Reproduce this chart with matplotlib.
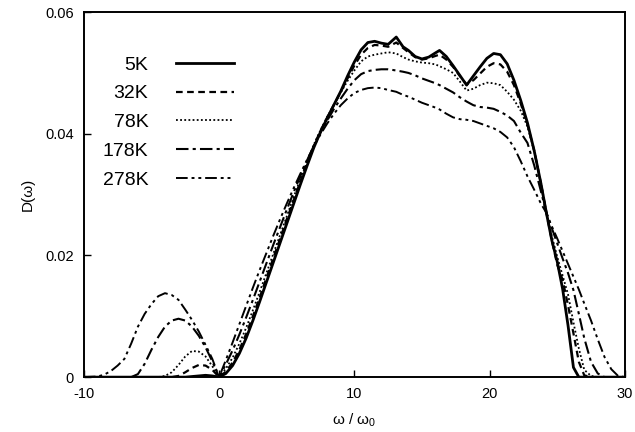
import matplotlib
matplotlib.use('Agg')
import matplotlib.pyplot as plt

plt.rcParams['font.family'] = ['Liberation Sans', 'DejaVu Sans']
plt.rcParams['mathtext.fontset'] = 'custom'
plt.rcParams['mathtext.rm'] = 'Liberation Sans'
plt.rcParams['mathtext.it'] = 'Liberation Sans'
plt.rcParams['axes.unicode_minus'] = False

# frequency grid (omega / omega_0)
omega = [-10, -9, -8.5, -8, -7.5, -7, -6.5, -6, -5.5, -5, -4.5, -4, -3.5, -3, -2.5, -2, -1.5, -1, -0.5, 0,
         0.5, 1, 1.5, 2, 2.5, 3, 3.5, 4, 4.5, 5, 5.5, 6, 6.5, 7, 7.5, 8, 8.5, 9, 9.5, 10, 10.5, 11, 11.5, 12, 12.5,
         13.1, 13.6, 14, 14.5, 15, 15.5, 16, 16.3, 16.8, 17.3,
         17.8, 18.3, 18.8, 19.3, 19.8, 20.3, 20.8, 21.3, 21.8, 22.3,
         22.8, 23.3, 23.8, 24.2, 24.6, 25, 25.4, 25.8, 26.2, 26.6,
         27, 27.5, 28, 28.5, 29, 29.5, 30]

d_5K = [0, 0, 0, 0, 0, 0, 0, 0, 0, 0, 0, 0, 0, 0, 0, 0.0001, 0.0002, 0.0003, 0.0002, 0,
        0.0006, 0.0019, 0.0039, 0.0064, 0.0093, 0.0124, 0.0156, 0.0188, 0.022, 0.0252, 0.0284, 0.0316, 0.0347,
        0.0377, 0.0403, 0.0426, 0.0448, 0.047, 0.0495, 0.0518, 0.0538, 0.055, 0.0552, 0.0549, 0.0547,
        0.0559, 0.0543, 0.0537, 0.0527, 0.0523, 0.0526, 0.0533, 0.0537, 0.0527, 0.0512,
        0.0496, 0.048, 0.0495, 0.051, 0.0524, 0.0532, 0.053, 0.0515, 0.0488, 0.0455,
        0.0418, 0.0372, 0.0318, 0.027, 0.0225, 0.019, 0.0145, 0.0085, 0.0016, 0,
        0, 0, 0, 0, 0, 0, 0]

d_32K = [0, 0, 0, 0, 0, 0, 0, 0, 0, 0, 0, 0, 0, 0.0002, 0.0008, 0.0015, 0.002, 0.0019, 0.0012, 0,
         0.0009, 0.0024, 0.0045, 0.0071, 0.01, 0.0131, 0.0163, 0.0195, 0.0227, 0.0259, 0.029, 0.0321, 0.0351,
         0.038, 0.0405, 0.0427, 0.0448, 0.0469, 0.0491, 0.0512, 0.053, 0.0541, 0.0546, 0.0545, 0.0543,
         0.055, 0.0541, 0.0534, 0.0526, 0.0522, 0.0524, 0.0528, 0.053, 0.0522, 0.051,
         0.0495, 0.0481, 0.0488, 0.0499, 0.051, 0.0516, 0.0514, 0.0502, 0.048, 0.045,
         0.0415, 0.0372, 0.0318, 0.027, 0.0225, 0.0185, 0.016, 0.0118, 0.0072, 0.0025,
         0.0003, 0, 0, 0, 0, 0, 0]

d_78K = [0, 0, 0, 0, 0, 0, 0, 0, 0, 0, 0, 0.0002, 0.0008, 0.002, 0.0034, 0.0043, 0.0042, 0.0034, 0.0018, 0,
         0.0014, 0.0032, 0.0055, 0.0081, 0.011, 0.014, 0.0171, 0.0202, 0.0233, 0.0264, 0.0295, 0.0325, 0.0354,
         0.0382, 0.0406, 0.0428, 0.0448, 0.0468, 0.0487, 0.0504, 0.0519, 0.0527, 0.053, 0.0532, 0.0534,
         0.0532, 0.0526, 0.0522, 0.0519, 0.0517, 0.0516, 0.0514, 0.0511, 0.0506, 0.05,
         0.0486, 0.0471, 0.0474, 0.048, 0.0484, 0.0483, 0.048, 0.0469, 0.0456, 0.0438,
         0.0412, 0.0372, 0.0318, 0.0272, 0.0232, 0.0198, 0.0167, 0.0136, 0.009, 0.0047,
         0.0012, 0.0002, 0, 0, 0, 0, 0]

d_178K = [0, 0, 0, 0, 0, 0, 0, 0.0005, 0.0022, 0.0045, 0.0066, 0.0083, 0.0093, 0.0096, 0.0093, 0.0083, 0.0068,
          0.0049, 0.0026, 0,
          0.0021, 0.0044, 0.007, 0.0098, 0.0127, 0.0157, 0.0187, 0.0217, 0.0246, 0.0275, 0.0303, 0.033, 0.0356,
          0.038, 0.0402, 0.0422, 0.0441, 0.0458, 0.0474, 0.0488, 0.0498, 0.0503, 0.0505, 0.0506, 0.0506,
          0.0504, 0.0502, 0.05, 0.0496, 0.0491, 0.0487, 0.0483, 0.048, 0.0474, 0.0468,
          0.046, 0.0453, 0.0447, 0.0444, 0.0443, 0.0441, 0.0436, 0.043, 0.0421, 0.0402,
          0.0385, 0.0348, 0.0305, 0.027, 0.0245, 0.022, 0.0195, 0.0171, 0.0143, 0.0104,
          0.0064, 0.0025, 0.0006, 0, 0, 0, 0]

d_278K = [0, 0.0001, 0.0004, 0.001, 0.0019, 0.003, 0.0055, 0.0083, 0.0104, 0.012, 0.0133, 0.0138, 0.0135, 0.0127,
          0.0111, 0.0094, 0.0075, 0.0053, 0.003, 0,
          0.0028, 0.0057, 0.0087, 0.0117, 0.0147, 0.0176, 0.0204, 0.0232, 0.0259, 0.0285, 0.031, 0.0334, 0.0357,
          0.0379, 0.0399, 0.0417, 0.0433, 0.0447, 0.0458, 0.0467, 0.0472, 0.0475, 0.0476, 0.0475, 0.0472,
          0.0469, 0.0464, 0.0461, 0.0456, 0.0451, 0.0447, 0.0443, 0.044, 0.0433, 0.0427,
          0.0424, 0.0423, 0.0421, 0.0417, 0.0413, 0.0409, 0.0403, 0.0394, 0.0378, 0.0355,
          0.033, 0.0308, 0.0285, 0.027, 0.0248, 0.0228, 0.0207, 0.0186, 0.0165, 0.0144,
          0.0121, 0.0093, 0.0062, 0.0033, 0.0013, 0.0002, 0]

labels = ['5K', '32K', '78K', '178K', '278K']
series = [d_5K, d_32K, d_78K, d_178K, d_278K]
styles = ['-', (0, (3, 2)), (0, (1, 1.3)), (0, (6, 2, 1.5, 2)), (0, (6, 2, 1.5, 2, 1.5, 2))]
widths = [2.0, 1.6, 1.3, 1.5, 1.4]

fig = plt.figure(figsize=(6.35, 4.32), dpi=100)
ax = fig.add_axes([0.132, 0.127, 0.852, 0.845])

for d, lab, ls, lw in zip(series, labels, styles, widths):
    ax.plot(omega, d, color='black', linestyle=ls, linewidth=lw, label=lab)

ax.set_xlim(-10, 30)
ax.set_ylim(0, 0.06)
ax.set_xticks([-10, 0, 10, 20, 30])
ax.set_yticks([0, 0.02, 0.04, 0.06])
ax.set_yticklabels(['0', '0.02', '0.04', '0.06'])
ax.tick_params(direction='in', length=5, width=1, labelsize=10.5, pad=7)
for s in ax.spines.values():
    s.set_linewidth(1.4)

ax.set_xlabel(r'ω / ω$_0$', fontsize=11, labelpad=8)
ax.set_ylabel('D(ω)', fontsize=11, labelpad=8)

leg = ax.legend(loc='upper left', bbox_to_anchor=(0.035, 0.88), frameon=False, markerfirst=False,
                fontsize=14, handlelength=3.0, handletextpad=1.4, labelspacing=0.58,
                borderpad=0, borderaxespad=0)

fig.savefig('out.png', dpi=100)
